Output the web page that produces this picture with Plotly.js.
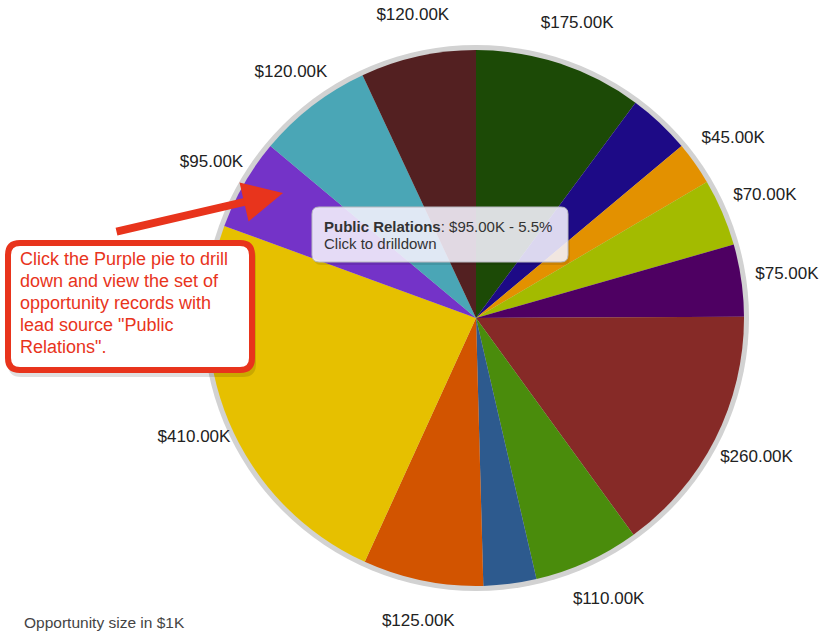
<!DOCTYPE html>
<html>
<head>
<meta charset="utf-8">
<script src="https://cdn.plot.ly/plotly-3.0.1.min.js"></script>
<style>html,body{margin:0;padding:0;background:#fff;}#chart{width:819px;height:634px;}</style>
</head>
<body>
<div id="chart"></div>
<script>
// Lead sources (clockwise from 12 o'clock)
const categories = ["Web", "Phone Inquiry", "Partner Referral", "Purchased List", "Other",
  "Trade Show", "Employee Referral", "External Referral", "Word of mouth", "Advertisement",
  "Public Relations", "Seminar - Internal", "Seminar - Partner"];
// Opportunity size in $1K
const values = [175, 65, 45, 70, 75, 260, 110, 55, 125, 410, 95, 120, 120];
// Whether the value label is drawn for a slice
const showLabel = [true, false, true, true, true, true, true, false, true, true, true, true, true];
const colors = ["#1c4a06", "#1d0a86", "#e39100", "#a3bb00", "#4e0062", "#862a27", "#4a8c0c",
  "#2d5a8e", "#d25400", "#e6c000", "#7433c8", "#4aa6b6", "#532021"];
const calloutLines = ['Click the Purple pie to drill', 'down and view the set of',
  'opportunity records with', 'lead source "Public', 'Relations".'];

const W = 819, H = 634;
const px = x => x / W;
const py = y => 1 - y / H;
function roundRect(x0, y0, x1, y1, r) {
  const p = (x, y) => px(x) + ',' + py(y);
  return 'M' + p(x0 + r, y0) + ' L' + p(x1 - r, y0) + ' Q' + p(x1, y0) + ' ' + p(x1, y0 + r) +
    ' L' + p(x1, y1 - r) + ' Q' + p(x1, y1) + ' ' + p(x1 - r, y1) +
    ' L' + p(x0 + r, y1) + ' Q' + p(x0, y1) + ' ' + p(x0, y1 - r) +
    ' L' + p(x0, y0 + r) + ' Q' + p(x0, y0) + ' ' + p(x0 + r, y0) + ' Z';
}

const cx = 476, cy = 318, R = 268;      // pie
const lcx = 480, RL = 310;              // label ring
const total = values.reduce((a, b) => a + b, 0);
const prIdx = categories.indexOf("Public Relations");
const FONT = 'Liberation Sans, Arial, Helvetica, sans-serif';

// mid-angle of every slice (degrees clockwise from 12 o'clock), from the values
const midAngles = [];
values.reduce((acc, v) => { midAngles.push((acc + v / 2) / total * 360); return acc + v; }, 0);
const lblTheta = [], lblText = [];
values.forEach((v, i) => {
  if (showLabel[i]) { lblTheta.push(midAngles[i]); lblText.push('$' + v.toFixed(2) + 'K'); }
});

const pieTrace = {
  type: 'pie',
  labels: categories,
  values: values,
  textinfo: 'none',
  sort: false,
  direction: 'clockwise',
  rotation: 0,
  marker: {colors: colors, line: {width: 0}},
  hoverinfo: 'none',
  showlegend: false,
  domain: {x: [px(cx - R), px(cx + R)], y: [py(cy + R), py(cy - R)]}
};
const labelTrace = {
  type: 'scatterpolar',
  mode: 'text',
  theta: lblTheta,
  r: lblTheta.map(() => 1),
  text: lblText,
  textposition: 'middle center',
  textfont: {family: FONT, size: 17, color: '#222'},
  cliponaxis: false,
  hoverinfo: 'none',
  showlegend: false
};

const annotations = [
  {xref: 'paper', yref: 'paper', x: px(322), y: py(226), xanchor: 'left', yanchor: 'middle',
   align: 'left', showarrow: false,
   text: '<b>' + categories[prIdx] + '</b>: $' + values[prIdx].toFixed(2) + 'K - ' +
     (values[prIdx] / total * 100).toFixed(1) + '%',
   font: {family: FONT, size: 15, color: '#333'}},
  {xref: 'paper', yref: 'paper', x: px(322), y: py(243), xanchor: 'left', yanchor: 'middle',
   align: 'left', showarrow: false, text: 'Click to drilldown',
   font: {family: FONT, size: 15, color: '#333'}},
  {xref: 'paper', yref: 'paper', x: px(283), y: py(193), ax: -168, ay: 39,
   showarrow: true, arrowhead: 2, arrowsize: 1.0, arrowwidth: 8, arrowcolor: '#e8341c',
   standoff: 0, text: ''},
  {xref: 'paper', yref: 'paper', x: px(22), y: py(622), xanchor: 'left', yanchor: 'middle',
   showarrow: false, text: 'Opportunity size in $1K', font: {family: FONT, size: 15.5, color: '#444'}}
];
calloutLines.forEach((t, i) => {
  annotations.push({xref: 'paper', yref: 'paper', x: px(18), y: py(259 + i * 22),
    xanchor: 'left', yanchor: 'middle', align: 'left', showarrow: false, text: t,
    font: {family: FONT, size: 18, color: '#e8341c'}});
});

const layout = {
  width: W, height: H,
  margin: {l: 0, r: 0, t: 0, b: 0},
  paper_bgcolor: '#fff',
  showlegend: false,
  font: {family: FONT},
  polar: {
    domain: {x: [px(lcx - RL), px(lcx + RL)], y: [py(cy + RL), py(cy - RL)]},
    bgcolor: 'rgba(0,0,0,0)',
    angularaxis: {visible: false, rotation: 90, direction: 'clockwise', showgrid: false, showline: false, ticks: ''},
    radialaxis: {visible: false, range: [0, 1], showgrid: false, showline: false, ticks: ''}
  },
  shapes: [
    {type: 'circle', xref: 'paper', yref: 'paper', layer: 'below',
     x0: px(cx - R - 5), x1: px(cx + R + 5), y0: py(cy + R + 5), y1: py(cy - R - 5),
     fillcolor: '#d2d2d2', line: {width: 0}},
    // tooltip shadow + box
    {type: 'path', xref: 'paper', yref: 'paper', layer: 'above',
     path: roundRect(314, 210, 570, 265, 7),
     fillcolor: 'rgba(0,0,0,0.10)', line: {width: 0}},
    {type: 'path', xref: 'paper', yref: 'paper', layer: 'above',
     path: roundRect(312, 207, 568, 262, 7),
     fillcolor: 'rgba(246,244,255,0.88)', line: {color: '#b8b8c0', width: 1}},
    // callout shadow + box
    {type: 'path', xref: 'paper', yref: 'paper', layer: 'above',
     path: roundRect(8, 245, 256, 377, 13),
     fillcolor: 'rgba(0,0,0,0.12)', line: {width: 0}},
    {type: 'path', xref: 'paper', yref: 'paper', layer: 'above',
     path: roundRect(8, 243, 252, 370, 12),
     fillcolor: '#ffffff', line: {color: '#e8341c', width: 6}}
  ],
  annotations: annotations
};

Plotly.newPlot('chart', [pieTrace, labelTrace], layout, {staticPlot: true, displayModeBar: false});
</script>
</body>
</html>
